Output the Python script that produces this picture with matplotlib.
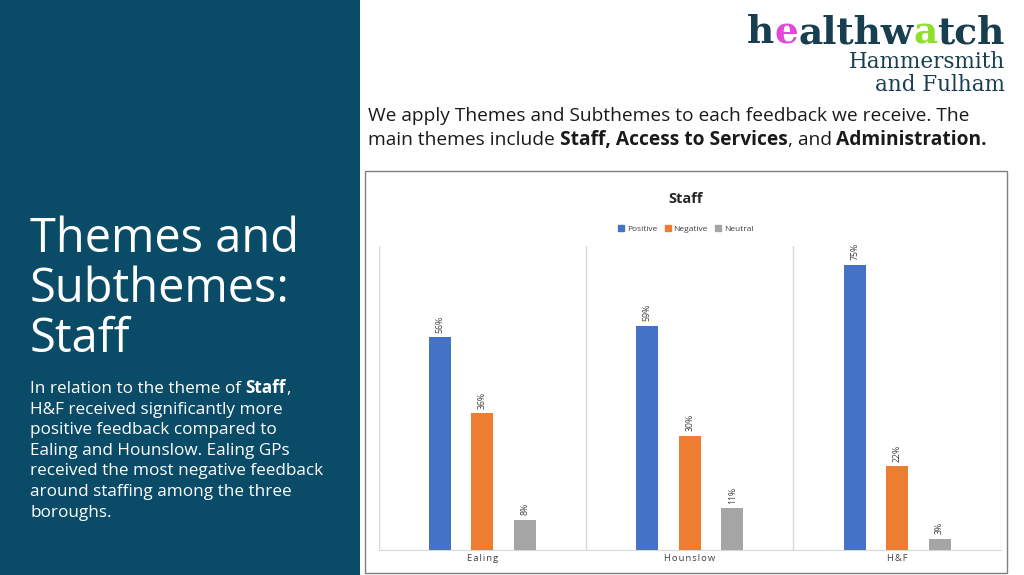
import numpy as np
import matplotlib
matplotlib.use("Agg")
import matplotlib.pyplot as plt
from matplotlib.patches import Rectangle, Patch

# --- data ---
boroughs = ["Ealing", "Hounslow", "H&F"]
positive = [56, 59, 75]
negative = [36, 30, 22]
neutral = [8, 11, 3]
series_names = ["Positive", "Negative", "Neutral"]
series_colors = ["#4472C4", "#ED7D31", "#A5A5A5"]

W, H = 1024, 575
PANEL = "#0a4b68"
INK = "#1a1a1a"
LOGO = "#173f4f"

plt.rcParams["font.family"] = ["Open Sans", "Noto Sans", "DejaVu Sans"]

fig = plt.figure(figsize=(W / 100, H / 100), dpi=100)
fig.patch.set_facecolor("white")


def fx(x):
    return x / W


def fy(y):
    return 1 - y / H


renderer = fig.canvas.get_renderer()


def run_width(s, **kw):
    # width of a text piece including spaces (measured between bars)
    t1 = fig.text(0, 0, "|" + s + "|", **kw)
    t2 = fig.text(0, 0, "||", **kw)
    w = t1.get_window_extent(renderer).width - t2.get_window_extent(renderer).width
    t1.remove()
    t2.remove()
    return w


def draw_runs(x, y, runs, size, color):
    # runs: list of (text, bold)
    for s, bold in runs:
        kw = dict(fontsize=size, fontweight="bold" if bold else "normal")
        fig.text(fx(x), fy(y), s, color=color, va="baseline", ha="left", **kw)
        x += run_width(s, **kw)


# left panel
fig.patches.append(Rectangle((0, 0), fx(360), 1, transform=fig.transFigure,
                             facecolor=PANEL, edgecolor="none", zorder=0))

for i, line in enumerate(["Themes and", "Subthemes:", "Staff"]):
    fig.text(fx(30), fy(252 + i * 50), line, color="white", fontsize=33.8,
             va="baseline", ha="left")

body = [
    [("In relation to the theme of ", False), ("Staff", True), (",", False)],
    [("H&F received significantly more", False)],
    [("positive feedback compared to", False)],
    [("Ealing and Hounslow. Ealing GPs", False)],
    [("received the most negative feedback", False)],
    [("around staffing among the three", False)],
    [("boroughs.", False)],
]
for i, runs in enumerate(body):
    draw_runs(30, 393 + i * 20.6, runs, 12.35, "white")

# intro text
draw_runs(368, 121, [("We apply Themes and Subthemes to each feedback we receive. The", False)], 13.75, INK)
draw_runs(368, 145, [("main themes include ", False), ("Staff, Access to Services", True),
                     (", and ", False), ("Administration.", True)], 13.75, INK)

# logo
LOGO_KW = dict(fontsize=27, fontweight="bold", family="DejaVu Serif")
logo_runs = [("h", LOGO), ("e", "#e04ad6"), ("althw", LOGO), ("a", "#8fe02c"), ("tch", LOGO)]
lw_total = sum(run_width(s, **LOGO_KW) for s, _ in logo_runs)
x0 = 1005 - lw_total
for s, c in logo_runs:
    fig.text(fx(x0), fy(43), s, color=c, va="baseline", ha="left", **LOGO_KW)
    x0 += run_width(s, **LOGO_KW)
fig.text(fx(1005), fy(68), "Hammersmith", color=LOGO, fontsize=15.5,
         family="DejaVu Serif", va="baseline", ha="right")
fig.text(fx(1005), fy(91), "and Fulham", color=LOGO, fontsize=15.5,
         family="DejaVu Serif", va="baseline", ha="right")

# chart frame
fig.patches.append(Rectangle((fx(365), fy(573)), fx(1007 - 365), (573 - 171) / H,
                             transform=fig.transFigure, facecolor="white",
                             edgecolor="#7f7f7f", linewidth=1, zorder=1))

ax = fig.add_axes([fx(378.8), fy(550), fx(1000.8 - 378.8), (550 - 246) / H])
ax.set_zorder(2)
ax.patch.set_alpha(0)

x = np.arange(len(boroughs))
offset = 0.205
width = 0.106
for k, (vals, name, col) in enumerate(zip([positive, negative, neutral], series_names, series_colors)):
    xs = x + (k - 1) * offset
    ax.bar(xs, vals, width=width, color=col, label=name, zorder=3)
    for xi, v in zip(xs, vals):
        ax.text(xi, v + 1.2, f"{v}%", rotation=90, ha="center", va="bottom",
                fontsize=6.3, color="#404040")

ax.set_xlim(-0.5, 2.5)
ax.set_ylim(0, 80)
ax.set_yticks([])
ax.set_xticks(x)
ax.set_xticklabels(["\u200a".join(b) for b in boroughs], fontsize=6.8, color="#404040")
ax.tick_params(axis="x", length=0, pad=3)
for xb in [-0.5, 0.5, 1.5, 2.5]:
    ax.axvline(xb, color="#d9d9d9", linewidth=1, zorder=1)
for s in ["top", "left", "right"]:
    ax.spines[s].set_visible(False)
ax.spines["bottom"].set_color("#d9d9d9")

fig.text(fx(686), fy(199), "Staff", fontsize=10.5, fontweight="bold", color="#262626",
         ha="center", va="center", zorder=3)
handles = [Patch(color=c) for c in series_colors]
fig.legend(handles, series_names, loc="center", bbox_to_anchor=(fx(686), fy(229)),
           ncol=3, frameon=False, fontsize=6, handlelength=0.7, handleheight=0.7,
           handletextpad=0.35, columnspacing=0.9, labelcolor="#404040")

fig.savefig("out.png", dpi=100)
